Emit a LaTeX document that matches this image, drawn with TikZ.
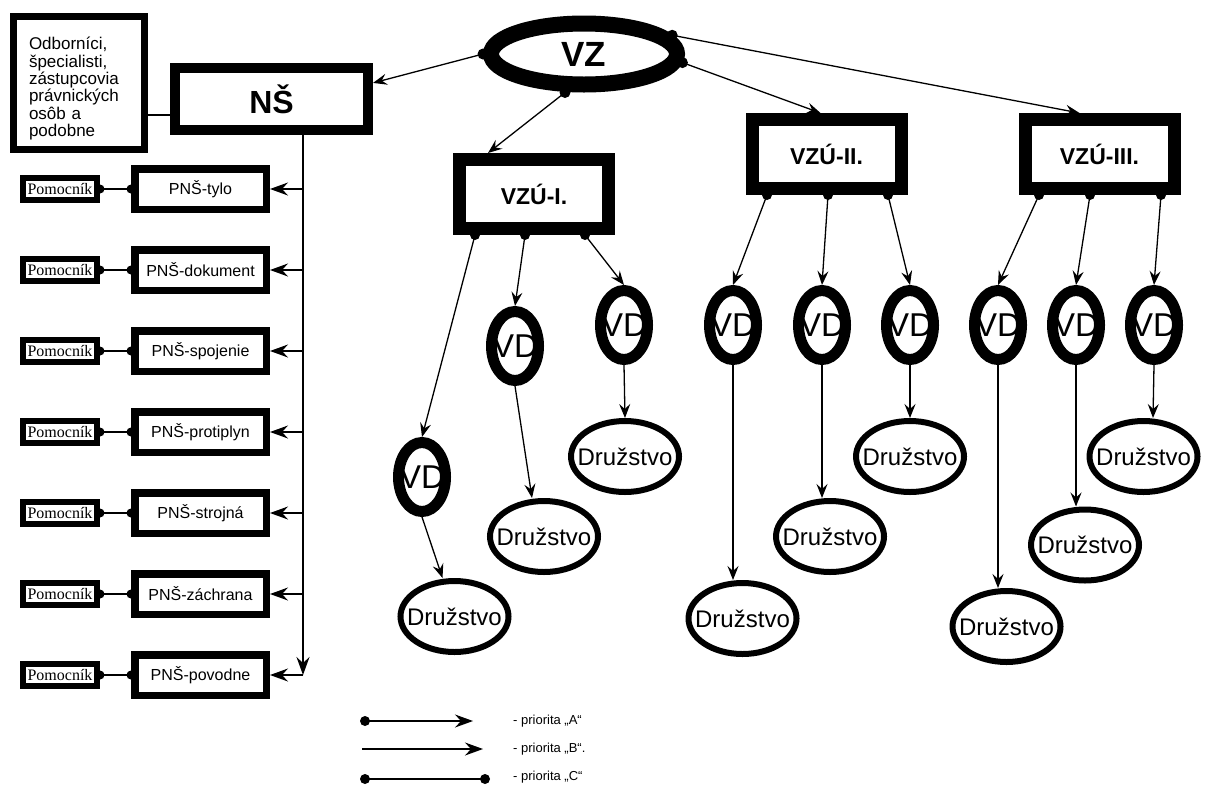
\documentclass[tikz,border=0pt]{standalone}
\usepackage{fontspec}
\setmainfont{Liberation Sans}
\newfontfamily\pomfont{Liberation Serif}
\usetikzlibrary{shapes.geometric,arrows.meta}

\begin{document}
\begin{tikzpicture}[x=1pt,y=-1pt,
  conn/.style={line width=1.3pt},
  pa/.style={conn,-{Stealth[length=14pt,width=11pt,inset=5pt]}},
  pabig/.style={conn,-{Stealth[length=18pt,width=13pt,inset=6pt]}},
  vzshape/.style={ellipse,draw,line width=16pt,minimum width=186pt,minimum height=61pt,inner sep=0pt},
  nsbox/.style={draw,line width=10pt,minimum width=193pt,minimum height=62pt,inner sep=0pt,font=\fontsize{32}{32}\selectfont\bfseries},
  expbox/.style={draw,line width=7pt,minimum width=131pt,minimum height=133pt,inner sep=0pt,align=left,text width=100pt,font=\fontsize{17}{17.4}\selectfont},
  vzubox/.style={draw,line width=13pt,minimum width=149pt,minimum height=69pt,inner sep=0pt,font=\fontsize{23}{23}\selectfont\bfseries},
  pnsbox/.style={draw,line width=7.5pt,minimum width=131.5pt,minimum height=40.5pt,inner sep=0pt,font=\fontsize{16}{16}\selectfont},
  pombox/.style={draw,line width=6pt,minimum width=74pt,minimum height=22pt,inner sep=0pt,font=\pomfont\fontsize{16}{16}\selectfont},
  vdshape/.style={ellipse,draw,line width=11pt,minimum width=47pt,minimum height=69pt,inner sep=0pt,
    label={[font=\fontsize{33}{33}\selectfont,inner sep=0pt]center:VD}},
  dshape/.style={ellipse,draw,line width=6pt,minimum width=108pt,minimum height=71pt,inner sep=0pt,
    label={[font=\fontsize{24}{24}\selectfont,inner sep=0pt]center:Družstvo}},
  legtext/.style={anchor=west,inner sep=0pt,font=\fontsize{13}{13}\selectfont}
]
\useasboundingbox (0,0) rectangle (1220,788);

% --- top level ---
\node[vzshape,label={[font=\fontsize{35}{35}\selectfont\bfseries,inner sep=0pt]center:VZ}] (vz) at (584,54) {};
\node[nsbox] (ns) at (271.5,99) {NŠ};
\node[expbox] (exp) at (79,83) {\rule{0pt}{24pt}Odborníci,\\špecialisti,\\zástupcovia\\právnických\\osôb a\\podobne};

% --- VZÚ units ---
\node[vzubox] (u1) at (534,194) {VZÚ-I.};
\node[vzubox] (u2) at (826.5,154) {VZÚ-II.};
\node[vzubox] (u3) at (1099.5,154) {VZÚ-III.};

% --- PNŠ boxes and their assistants ---
\foreach \i/\t [evaluate=\i as \yy using 189+81*(\i-1)] in
  {1/PNŠ-tylo,2/PNŠ-dokument,3/PNŠ-spojenie,4/PNŠ-protiplyn,5/PNŠ-strojná,6/PNŠ-záchrana,7/PNŠ-povodne}{
  \node[pnsbox] (p\i) at (200.5,\yy) {\t};
  \node[pombox] (m\i) at (60,\yy) {Pomocník};
}

% --- VD ellipses ---
\node[vdshape] (v1) at (422,477) {};
\node[vdshape] (v2) at (515,346) {};
\node[vdshape] (v3) at (624,325) {};
\node[vdshape] (v4) at (733,325) {};
\node[vdshape] (v5) at (822,325) {};
\node[vdshape] (v6) at (910,325) {};
\node[vdshape] (v7) at (998,325) {};
\node[vdshape] (v8) at (1076,325) {};
\node[vdshape] (v9) at (1154,325) {};

% --- Družstvo ellipses ---
\node[dshape] (d1) at (454.5,616.5) {};
\node[dshape] (d2) at (544,536.5) {};
\node[dshape] (d3) at (625,456.5) {};
\node[dshape] (d4) at (742.5,618.5) {};
\node[dshape] (d5) at (830,536.5) {};
\node[dshape] (d6) at (910,456.5) {};
\node[dshape] (d7) at (1006.5,626.5) {};
\node[dshape] (d8) at (1085,545) {};
\node[dshape] (d9) at (1143.5,456.5) {};

% --- connectors from VZ ---
\draw[pa] (vz.west) -- (ns.9);
\draw[pa] ([xshift=-19pt]vz.south) -- ([xshift=-46pt]u1.north);
\draw[pa] (vz.-5) -- ([xshift=-6pt]u2.north);
\draw[pa] (vz.12) -- ([xshift=-20pt]u3.north);
\foreach \a in {vz.west,vz.-5,vz.12}{\fill (\a) circle (5.5);}
\fill ([xshift=-19pt]vz.south) circle (5.5);

% --- NŠ side ---
\draw[conn] ([yshift=-16pt]ns.west) -- ([yshift=-16pt]ns.west -| exp.east);
\coordinate (tend) at (303,675);
\draw[pabig] ([xshift=31.5pt]ns.south) -- (tend);
\foreach \i in {1,...,7}{
  \draw[pabig] (p\i.east -| tend) -- (p\i.east);
  \draw[conn] (m\i.east) -- (p\i.west);
  \fill (m\i.east) circle (4.5);
  \fill (p\i.west) circle (4.5);
}

% --- VZÚ to VD ---
\foreach \u/\s/\v in {u1/-59/v1,u1/-9/v2,u1/51/v3,u2/-59.5/v4,u2/1.5/v5,u2/61.5/v6,u3/-60.5/v7,u3/-9.5/v8,u3/61.5/v9}{
  \draw[pa] ([xshift=\s pt]\u.south) -- (\v.north);
  \fill ([xshift=\s pt]\u.south) circle (5);
}

% --- VD to Družstvo ---
\draw[pa] (v1.south) -- ([xshift=-12pt]d1.north);
\draw[pa] (v2.south) -- ([xshift=-12pt]d2.north);
\draw[pa] (v3.south) -- (d3.north);
\draw[pa] (v4.south) -- ([xshift=-9.5pt]d4.north);
\draw[pa] (v5.south) -- ([xshift=-8pt]d5.north);
\draw[pa] (v6.south) -- (d6.north);
\draw[pa] (v7.south) -- ([xshift=-8.5pt]d7.north);
\draw[pa] (v8.south) -- ([xshift=-9pt]d8.north);
\draw[pa] (v9.south) -- ([xshift=9.5pt]d9.north);

% --- legend ---
\coordinate (la) at (365,721);
\coordinate (lae) at (473,721);
\coordinate (lb) at (362,749);
\coordinate (lbe) at (483,749);
\coordinate (lc) at (365,779);
\coordinate (lce) at (485,779);
\draw[pabig] (la) -- (lae);
\fill (la) circle (5);
\draw[pabig] (lb) -- (lbe);
\draw[conn] (lc) -- (lce);
\fill (lc) circle (5);
\fill (lce) circle (5);
\node[legtext] (lta) at (513,721) {- priorita „A“};
\node[legtext] (ltb) at (513,749) {- priorita „B“.};
\node[legtext] (ltc) at (513,777) {- priorita „C“};
\end{tikzpicture}
\end{document}
